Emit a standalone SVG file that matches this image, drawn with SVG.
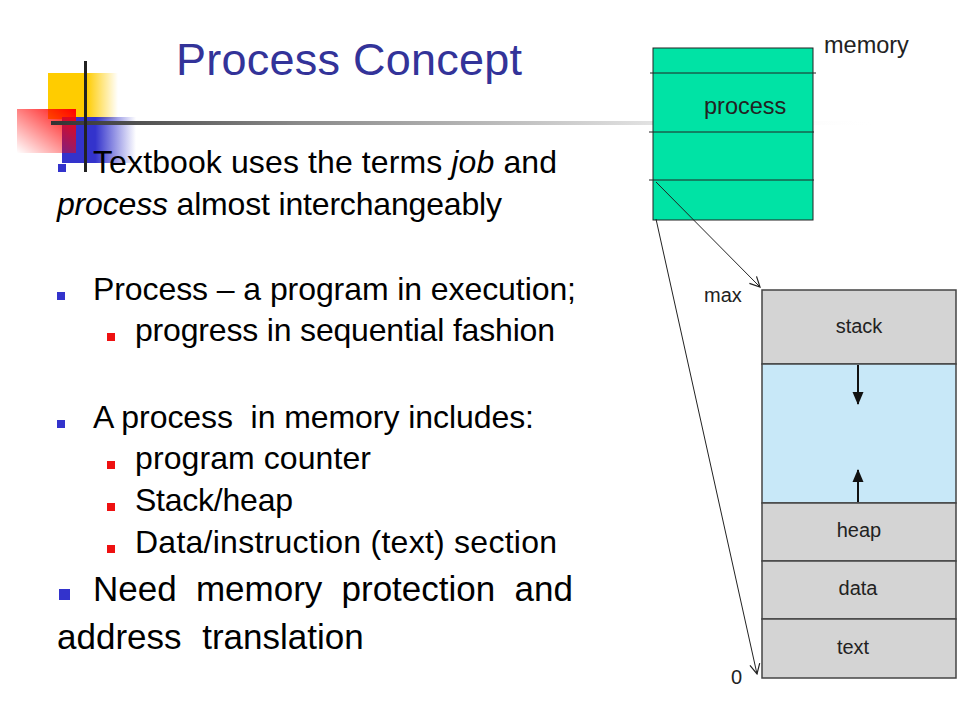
<svg xmlns="http://www.w3.org/2000/svg" width="960" height="720" viewBox="0 0 960 720">
<defs>
<linearGradient id="gYellow" x1="0" y1="0" x2="1" y2="0">
<stop offset="0" stop-color="#FFCC00"/><stop offset="0.55" stop-color="#FFCC00"/><stop offset="1" stop-color="#FFCC00" stop-opacity="0"/>
</linearGradient>
<linearGradient id="gBlue" x1="0" y1="0" x2="1" y2="0">
<stop offset="0" stop-color="#3333CC"/><stop offset="0.45" stop-color="#3333CC"/><stop offset="1" stop-color="#3333CC" stop-opacity="0"/>
</linearGradient>
<linearGradient id="gRed" x1="1" y1="0" x2="0" y2="1">
<stop offset="0" stop-color="#FF0000"/><stop offset="1" stop-color="#FF0000" stop-opacity="0"/>
</linearGradient>
<linearGradient id="gLine" x1="0" y1="0" x2="1" y2="0">
<stop offset="0" stop-color="#333333"/><stop offset="0.3" stop-color="#8A8A8A"/><stop offset="0.7" stop-color="#DDDDDD"/><stop offset="1" stop-color="#FFFFFF" stop-opacity="0"/>
</linearGradient>
<marker id="open" viewBox="0 0 12 12" refX="11" refY="6" markerWidth="12" markerHeight="12" markerUnits="userSpaceOnUse" orient="auto">
<path d="M1,1 L11,6 L1,11" fill="none" stroke="#222" stroke-width="1.2"/>
</marker>
<marker id="solid" viewBox="0 0 13 12" refX="12" refY="6" markerWidth="13" markerHeight="12" markerUnits="userSpaceOnUse" orient="auto">
<path d="M0,0.5 L13,6 L0,11.5 Z" fill="#111"/>
</marker>
</defs>
<style>
.body{font-family:"Liberation Sans",Arial,sans-serif;font-size:32px;fill:#000}
.big{font-family:"Liberation Sans",Arial,sans-serif;font-size:35px;fill:#000}
.title{font-family:"Liberation Sans",Arial,sans-serif;font-size:45px;fill:#333399}
.lbl{font-family:"Liberation Sans",Arial,sans-serif;font-size:20px;fill:#222}
.mlbl{font-family:"Liberation Sans",Arial,sans-serif;font-size:23.5px;fill:#222}
.seg{fill:#D4D4D4;stroke:#444;stroke-width:1.5}
.free{fill:#C8E8F8;stroke:#444;stroke-width:1.5}
.b1{fill:#3333CC}
.b2{fill:#EE1111}
.conn{stroke:#222;stroke-width:1;fill:none}
</style>
<rect width="960" height="720" fill="#FFFFFF"/>
<g id="decoration">
<rect x="48" y="73" width="70" height="46" fill="url(#gYellow)"/>
<rect x="62" y="117" width="74" height="46" fill="url(#gBlue)"/>
<rect x="17" y="109" width="59" height="44" fill="url(#gRed)"/>
<rect x="51" y="121" width="830" height="4" fill="url(#gLine)"/>
<rect x="84" y="61" width="3" height="111" fill="#222"/>
</g>
<g id="title"><text class="title" x="176" y="75" textLength="346" lengthAdjust="spacing">Process Concept</text></g>
<g id="bullets">
<rect class="b1" x="58" y="164" width="8" height="8"/>
<text class="body" x="93" y="173" textLength="464" lengthAdjust="spacing">Textbook uses the terms <tspan font-style="italic">job</tspan> and</text>
<text class="body" x="57" y="215" textLength="445" lengthAdjust="spacing"><tspan font-style="italic">process</tspan> almost interchangeably</text>
<rect class="b1" x="57" y="292" width="8" height="8"/>
<text class="body" x="93" y="300" textLength="483" lengthAdjust="spacing">Process – a program in execution;</text>
<rect class="b2" x="107" y="333" width="8" height="8"/>
<text class="body" x="135" y="341" textLength="420" lengthAdjust="spacing">progress in sequential fashion</text>
<rect class="b1" x="57" y="420" width="8" height="8"/>
<text class="body" x="93" y="428" textLength="441" lengthAdjust="spacing" xml:space="preserve">A process  in memory includes:</text>
<rect class="b2" x="107" y="461" width="8" height="8"/>
<text class="body" x="135" y="469" textLength="236" lengthAdjust="spacing">program counter</text>
<rect class="b2" x="107" y="503" width="8" height="8"/>
<text class="body" x="135" y="511" textLength="158" lengthAdjust="spacing">Stack/heap</text>
<rect class="b2" x="107" y="545" width="8" height="8"/>
<text class="body" x="135" y="553" textLength="422" lengthAdjust="spacing">Data/instruction (text) section</text>
<rect class="b1" x="59" y="589" width="11" height="11"/>
<text class="big" x="93" y="601" word-spacing="9.5">Need memory protection and</text>
<text class="big" x="57" y="649" word-spacing="11">address translation</text>
</g>
<g id="memory">
<rect x="653" y="48" width="160" height="172" fill="#00E3A5" stroke="#222" stroke-width="1"/>
<line x1="650" y1="73" x2="816" y2="73" stroke="#222" stroke-width="1"/>
<line x1="649" y1="132" x2="814" y2="132" stroke="#222" stroke-width="1"/>
<line x1="649" y1="180" x2="814" y2="180" stroke="#222" stroke-width="1"/>
<text class="mlbl" x="704" y="114">process</text>
<text class="mlbl" x="824" y="53">memory</text>
</g>
<g id="address-space">
<rect class="seg" x="762" y="290" width="194" height="74"/>
<rect class="free" x="762" y="364" width="194" height="139"/>
<rect class="seg" x="762" y="503" width="194" height="58"/>
<rect class="seg" x="762" y="561" width="194" height="58"/>
<rect class="seg" x="762" y="619" width="194" height="59"/>
<text class="lbl" x="859" y="333" text-anchor="middle">stack</text>
<text class="lbl" x="859" y="537" text-anchor="middle">heap</text>
<text class="lbl" x="858" y="595" text-anchor="middle">data</text>
<text class="lbl" x="853" y="654" text-anchor="middle">text</text>
<text class="lbl" x="704" y="302">max</text>
<text class="lbl" x="731" y="684">0</text>
<line x1="858" y1="365" x2="858" y2="404" stroke="#111" stroke-width="2" marker-end="url(#solid)"/>
<line x1="858" y1="502" x2="858" y2="470" stroke="#111" stroke-width="2" marker-end="url(#solid)"/>
</g>
<g id="connectors">
<line class="conn" x1="656" y1="182" x2="760" y2="287" marker-end="url(#open)"/>
<line class="conn" x1="656" y1="219" x2="757" y2="674" marker-end="url(#open)"/>
</g>
</svg>
